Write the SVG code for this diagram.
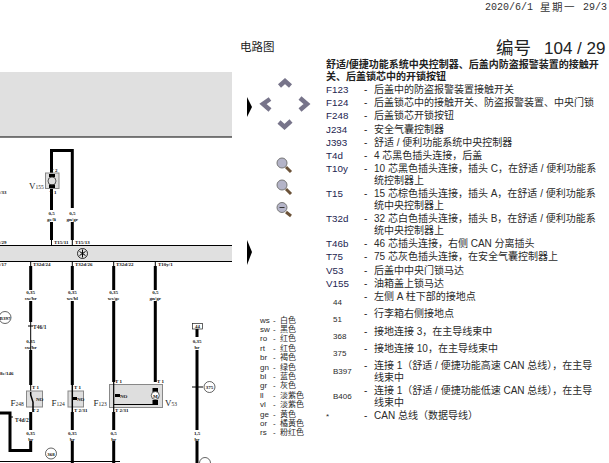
<svg xmlns="http://www.w3.org/2000/svg" width="609" height="463" viewBox="0 0 609 463">
<style>
text{font-family:"Liberation Sans","Noto Sans CJK SC",sans-serif;fill:#222}
.t{font-size:10px;fill:#2a2a2a}
.k{font-size:9.8px;fill:#1c2450}
.l{font-size:8px;fill:#2a2a2a}
.s{font-family:"Liberation Serif",serif;font-size:5px;font-weight:bold;fill:#111;text-anchor:middle}
.p{font-family:"Liberation Serif",serif;font-size:5px;font-weight:bold;fill:#111}
.c{font-family:"Liberation Serif",serif;fill:#222}
.w{fill:none;stroke:#000;stroke-width:3}
.n{fill:none;stroke:#000;stroke-width:1}
.b{fill:#e0e0e0}
.box{fill:#dedede;stroke:#888;stroke-width:1}
.r{fill:#fff;stroke:#222;stroke-width:.7}
.ch{fill:none;stroke:#77748a;stroke-width:4.5}
.lens{fill:#b4b4c8;stroke:#777;stroke-width:1}
.hd{stroke:#6b5238;stroke-width:3}
.m{font-family:"Liberation Mono",monospace;font-size:10px;fill:#333}
.z{font-family:"Noto Sans CJK SC",sans-serif;font-size:10.500px;letter-spacing:1.500px;fill:#333}
</style>
<g id="band-top"><rect class="b" x="0" y="72" width="232" height="65"/><line x1="0" y1="137" x2="232" y2="137" stroke="#000" stroke-width="1"/></g>
<g id="band-unit"><rect class="b" x="0" y="245.500" width="232" height="16"/><path class="n" d="M0 245.500H232M0 261.500H232"/><circle cx="82.500" cy="253.500" r="5" fill="none" stroke="#000" stroke-width=".8"/><path d="M82.500 249.500V257.500M79.500 251.500L85.500 255.500M85.500 251.500L79.500 255.500" stroke="#000" stroke-width="1"/></g>
<g id="connectors">
<path class="w" d="M51.500 174V150.500H72.300V208"/>
<path class="w" d="M51.500 189V210M51.500 222V240M72.300 222V240"/>
<path class="n" d="M51.500 240V245M72.300 240V245M30.700 261.500V266M72.300 261.500V266M113.700 261.500V266M155.300 261.500V266"/>
<path class="w" d="M30.700 266V290M30.700 301V322M30.700 350V385"/>
<path class="n" d="M30.700 322V350M30.700 385V392"/>
<path class="w" d="M72.300 266V290M72.300 301V385"/>
<path class="w" d="M113.700 266V290M113.700 301V382"/>
<path class="w" d="M155.300 266V290M155.300 301V382"/>
<path class="w" d="M72.300 412V430M72.300 441V463M113.700 412V430M113.700 441V463"/>
<path class="w" d="M30.700 412V430M30.700 441V450.500H10V413H0"/>
<path class="w" d="M197 329V337M197 350V430M197 441V463"/>
<path class="n" d="M192 387H203"/>
<path d="M0 461.500H120" stroke="#000" stroke-width="1"/>
</g>
<g id="V155"><rect class="box" x="45.500" y="173" width="13.500" height="15.500"/><rect x="49" y="174" width="6" height="3" fill="#000"/><rect x="49" y="184.500" width="6" height="3.500" fill="#000"/><circle cx="52" cy="181" r="4" fill="none" stroke="#333" stroke-width=".8"/><text class="c" x="29" y="189" font-size="9">V<tspan font-size="5.500">155</tspan></text><text class="s" x="54" y="172">T 2</text><text class="s" x="53" y="194">T 1</text></g>
<g id="F248"><rect class="box" x="26.500" y="391" width="16" height="16"/><path d="M30.700 392V395L33 402V412" fill="none" stroke="#000" stroke-width="1.500"/><text class="p" x="36" y="401">NO</text><text class="c" x="10.500" y="406" font-size="9">F<tspan font-size="5.500">248</tspan></text><text class="p" x="32" y="389">T 1</text><text class="p" x="32" y="412">T 2</text></g>
<g id="F124"><rect class="box" x="68" y="391" width="15.500" height="16"/><path d="M72.300 385V412" stroke="#000" stroke-width="1.500"/><rect x="73" y="397" width="4" height="3" fill="#000"/><text class="p" x="77" y="401">NO</text><text class="c" x="51.500" y="406" font-size="9">F<tspan font-size="5.500">124</tspan></text><text class="p" x="74" y="389">T 1</text><text class="p" x="74" y="412">T 2/31</text></g>
<g id="F123-V53"><rect class="box" x="109.500" y="384.500" width="53" height="23"/><path d="M113.700 382V412M113.700 404.500H155.300" fill="none" stroke="#000" stroke-width="1.200"/><rect x="115" y="394" width="5" height="3" fill="#000"/><text class="p" x="120" y="398">NO</text><rect x="152.500" y="388" width="5.500" height="4" fill="#000"/><rect x="152.500" y="400" width="5.500" height="5" fill="#000"/><circle cx="155.300" cy="395.500" r="4" fill="#fff" stroke="#333" stroke-width=".8"/><text class="s" x="155.300" y="397.500">M</text><text class="c" x="93.500" y="406" font-size="9">F<tspan font-size="5.500">123</tspan></text><text class="c" x="165" y="406" font-size="9">V<tspan font-size="5.500">53</tspan></text><text class="p" x="115" y="383">T 1</text><text class="p" x="157" y="383">T 1</text><text class="p" x="115" y="412">T 2/31</text></g>
<g id="wire-labels">
<text class="s" x="51.500" y="215">0,5</text><text class="s" x="51.500" y="220.500">ge/li</text>
<text class="s" x="72.300" y="215">0,5</text><text class="s" x="72.300" y="220.500">gn/gr</text>
<text class="s" x="30.700" y="294">0,35</text><text class="s" x="30.700" y="299.500">sw/br</text>
<text class="s" x="72.300" y="294">0,35</text><text class="s" x="72.300" y="299.500">ws/bl</text>
<text class="s" x="113.700" y="294">0,35</text><text class="s" x="113.700" y="299.500">ws/ge</text>
<text class="s" x="155.300" y="294">0,5</text><text class="s" x="155.300" y="299.500">gn/gr</text>
<text class="s" x="30.700" y="343">0,35</text><text class="s" x="30.700" y="348.500">sw/br</text>
<text class="s" x="197" y="343">0,35</text><text class="s" x="197" y="348.500">br</text>
<text class="s" x="30.700" y="435">0,35</text><text class="s" x="30.700" y="440.500">br</text>
<text class="s" x="72.300" y="435">0,35</text><text class="s" x="72.300" y="440.500">br</text>
<text class="s" x="113.700" y="435">0,5</text><text class="s" x="113.700" y="440.500">br</text>
<text class="s" x="197" y="435">1,5</text><text class="s" x="197" y="440.500">br</text>
<text class="p" x="0" y="193.500">/33</text><text class="p" x="0" y="244">/29</text><text class="p" x="0" y="266">/17</text>
<text class="p" x="54" y="244">T15/11</text><text class="p" x="75" y="244">T15/13</text>
<text class="p" x="33" y="266">T32d/24</text><text class="p" x="75" y="266">T32d/26</text><text class="p" x="116" y="266">T32d/22</text><text class="p" x="158" y="266">T10y/1</text>
<text class="p" x="0" y="375">8e/146</text>
<text class="c" x="33" y="329" font-size="5.500" font-weight="bold">T46/1</text>
<text class="c" x="15" y="422" font-size="5.500" font-weight="bold">T4d/2</text>
<path class="n" d="M28 326H33M9 417H13" stroke-width=".8"/>
</g>
<g id="B397"><circle class="r" cx="5" cy="317.500" r="6"/><text class="s" x="5" y="319.500">B397</text></g>
<g id="G368"><circle class="r" cx="51" cy="453.500" r="5.500"/><text class="s" x="51" y="455.500">368</text></g>
<g id="G375"><circle class="r" cx="209.500" cy="387" r="5.500"/><text class="s" x="209.500" y="389">375</text></g>
<g id="G51"><circle class="r" cx="205" cy="463" r="5.500"/></g>
<g id="G44"><rect class="r" x="192.500" y="323.500" width="10" height="5.500"/><text class="s" x="197.500" y="328">44</text></g>
<g id="nav">
<path d="M247 97L252 107L247 117Z" fill="#000"/><path d="M247 240L252 252L247 265Z" fill="#000"/>
<path class="ch" d="M279.500 86L285 81L290.500 86"/><path class="ch" d="M270 99L263 104L270 110"/><path class="ch" d="M300 98L307 104L300 110"/><path class="ch" d="M279 122L284.500 127L291 121"/>
<g><line class="hd" x1="286" y1="167" x2="291" y2="172"/><circle class="lens" cx="282" cy="163" r="5"/></g>
<g><line class="hd" x1="286" y1="189" x2="291" y2="194"/><circle class="lens" cx="282" cy="185" r="5"/></g>
<g><line class="hd" x1="286" y1="212" x2="291" y2="216"/><circle class="lens" cx="282" cy="207.500" r="5"/><path d="M279.500 207.500H284.500" stroke="#333"/></g>
</g>
<g id="header">
<text class="m" x="485" y="10">2020/6/1</text><text class="z" x="540" y="11">星期一</text><text class="m" x="583" y="10">29/3</text>
<text x="240" y="51" font-size="11.500">电路图</text>
<text x="496" y="54" font-size="17.500">编号</text>
<text x="544" y="54" font-size="17" fill="#1c2450">104 / 29</text>
<text x="326" y="68" font-size="10" font-weight="bold" fill="#111">舒适/便捷功能系统中央控制器、后盖内防盗报警装置的接触开</text>
<text x="326" y="80" font-size="10" font-weight="bold" fill="#111">关、后盖锁芯中的开锁按钮</text>
</g>
<g id="key">
<text class="k" x="326" y="93">F123</text><text class="t" x="364" y="93">-</text><text class="t" x="374" y="93">后盖中的防盗报警装置接触开关</text>
<text class="k" x="326" y="106">F124</text><text class="t" x="364" y="106">-</text><text class="t" x="374" y="106">后盖锁芯中的接触开关、防盗报警装置、中央门锁</text>
<text class="k" x="326" y="119">F248</text><text class="t" x="364" y="119">-</text><text class="t" x="374" y="119">后盖锁芯开锁按钮</text>
<text class="k" x="326" y="133">J234</text><text class="t" x="364" y="133">-</text><text class="t" x="374" y="133">安全气囊控制器</text>
<text class="k" x="326" y="146">J393</text><text class="t" x="364" y="146">-</text><text class="t" x="374" y="146">舒适 / 便利功能系统中央控制器</text>
<text class="k" x="326" y="159">T4d</text><text class="t" x="364" y="159">-</text><text class="t" x="374" y="159">4 芯黑色插头连接，后盖</text>
<text class="k" x="326" y="172">T10y</text><text class="t" x="364" y="172">-</text><text class="t" x="374" y="172">10 芯黑色插头连接，插头 C，在舒适 / 便利功能系</text><text class="t" x="374" y="184">统控制器上</text>
<text class="k" x="326" y="197">T15</text><text class="t" x="364" y="197">-</text><text class="t" x="374" y="197">15 芯棕色插头连接，插头 A，在舒适 / 便利功能系</text><text class="t" x="374" y="209">统中央控制器上</text>
<text class="k" x="326" y="222">T32d</text><text class="t" x="364" y="222">-</text><text class="t" x="374" y="222">32 芯白色插头连接，插头 B，在舒适 / 便利功能系</text><text class="t" x="374" y="234">统中央控制器上</text>
<text class="k" x="326" y="247">T46b</text><text class="t" x="364" y="247">-</text><text class="t" x="374" y="247">46 芯插头连接，右侧 CAN 分离插头</text>
<text class="k" x="326" y="260">T75</text><text class="t" x="364" y="260">-</text><text class="t" x="374" y="260">75 芯灰色插头连接，在安全气囊控制器上</text>
<text class="k" x="326" y="274">V53</text><text class="t" x="364" y="274">-</text><text class="t" x="374" y="274">后盖中中央门锁马达</text>
<text class="k" x="326" y="287">V155</text><text class="t" x="364" y="287">-</text><text class="t" x="374" y="287">油箱盖上锁马达</text>
<text class="l" x="333" y="305">44</text><text class="t" x="364" y="300">-</text><text class="t" x="374" y="300">左侧 A 柱下部的接地点</text>
<text class="l" x="333" y="322">51</text><text class="t" x="364" y="317">-</text><text class="t" x="374" y="317">行李箱右侧接地点</text>
<text class="l" x="333" y="339">368</text><text class="t" x="364" y="335">-</text><text class="t" x="374" y="335">接地连接 3，在主导线束中</text>
<text class="l" x="333" y="356">375</text><text class="t" x="364" y="352">-</text><text class="t" x="374" y="352">接地连接 10，在主导线束中</text>
<text class="l" x="333" y="374">B397</text><text class="t" x="364" y="369">-</text><text class="t" x="374" y="369">连接 1（舒适 / 便捷功能高速 CAN 总线），在主导</text><text class="t" x="374" y="381">线束中</text>
<text class="l" x="333" y="399">B406</text><text class="t" x="364" y="394">-</text><text class="t" x="374" y="394">连接 1（舒适 / 便捷功能低速 CAN 总线），在主导</text><text class="t" x="374" y="406">线束中</text>
<text class="l" x="326" y="419">*</text><text class="t" x="364" y="419">-</text><text class="t" x="374" y="419">CAN 总线（数据导线）</text>
</g>
<g id="colours">
<text class="l" x="260" y="322.500">ws</text><text class="l" x="273" y="322.500">-</text><text class="l" x="280" y="322.500">白色</text>
<text class="l" x="260" y="332">sw</text><text class="l" x="273" y="332">-</text><text class="l" x="280" y="332">黑色</text>
<text class="l" x="260" y="341.400">ro</text><text class="l" x="273" y="341.400">-</text><text class="l" x="280" y="341.400">红色</text>
<text class="l" x="260" y="350.800">rt</text><text class="l" x="273" y="350.800">-</text><text class="l" x="280" y="350.800">红色</text>
<text class="l" x="260" y="360.200">br</text><text class="l" x="273" y="360.200">-</text><text class="l" x="280" y="360.200">褐色</text>
<text class="l" x="260" y="369.600">gn</text><text class="l" x="273" y="369.600">-</text><text class="l" x="280" y="369.600">绿色</text>
<text class="l" x="260" y="379">bl</text><text class="l" x="273" y="379">-</text><text class="l" x="280" y="379">蓝色</text>
<text class="l" x="260" y="388.400">gr</text><text class="l" x="273" y="388.400">-</text><text class="l" x="280" y="388.400">灰色</text>
<text class="l" x="260" y="397.800">ll</text><text class="l" x="273" y="397.800">-</text><text class="l" x="280" y="397.800">淡紫色</text>
<text class="l" x="260" y="407.200">vl</text><text class="l" x="273" y="407.200">-</text><text class="l" x="280" y="407.200">淡紫色</text>
<text class="l" x="260" y="416.600">ge</text><text class="l" x="273" y="416.600">-</text><text class="l" x="280" y="416.600">黄色</text>
<text class="l" x="260" y="426">or</text><text class="l" x="273" y="426">-</text><text class="l" x="280" y="426">橘黄色</text>
<text class="l" x="260" y="435.400">rs</text><text class="l" x="273" y="435.400">-</text><text class="l" x="280" y="435.400">粉红色</text>
</g>
</svg>
